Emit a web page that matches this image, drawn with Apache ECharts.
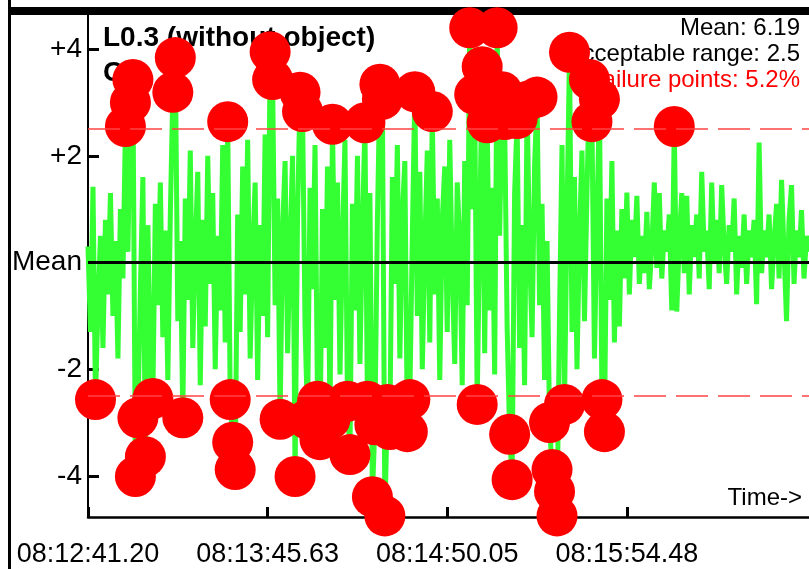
<!DOCTYPE html>
<html>
<head>
<meta charset="utf-8">
<script src="https://cdn.jsdelivr.net/npm/echarts@6/dist/echarts.min.js"></script>
<style>
  html, body { margin: 0; padding: 0; background: #fff; }
  #chart { width: 809px; height: 569px; }
</style>
</head>
<body>
<div id="chart"></div>
<script>
const chart = echarts.init(document.getElementById("chart"));

// deviation from mean, one value per sample
const deviation = [
    0.3, -1.3, 1.42, -2.57, -0.8, 0.5, -1.6, 0.8, -0.6, 1.3,
    -1.0, 0.4, -1.8, 1.0, -0.3, 2.55, 0.2, 3.0, 3.43, -4.01,
    -2.91, -0.5, 1.6, -3.64, 0.7, -1.9, -2.55, 1.1, -0.8, 1.5,
    -1.4, 0.6, -2.2, 0.9, 3.19, 3.84, -1.1, 0.4, -2.91, 1.2,
    -0.7, 2.1, -1.6, 0.3, 1.7, -2.3, 0.8, -1.2, 2.0, -0.4,
    1.3, -2.0, 0.5, -0.9, 2.2, -1.5, 2.64, -2.57, -3.37, -3.88,
    0.9, -1.3, 1.8, -0.6, 2.3, -1.8, 0.2, 1.5, -2.2, 0.7,
    -1.0, 2.4, -1.4, 3.95, 3.43, -0.8, 1.2, -2.94, 0.6, 1.9,
    -1.7, 0.3, 2.0, -4.01, 0.9, 3.19, 2.83, -1.2, -2.94, 1.4,
    -0.5, 2.2, -2.6, -3.32, 1.0, -1.6, 1.8, -2.94, 2.59, -0.7,
    1.5, -2.1, 0.4, 2.3, -2.6, -3.6, 1.1, -0.9, 2.0, -1.9,
    0.6, 2.62, -2.6, 1.3, -4.39, -3.04, 0.8, 3.34, 3.06, -4.75,
    -2.66, -3.13, 1.6, -0.4, 2.2, -1.8, 0.9, 1.9, -3.17, -2.57,
    0.5, 3.2, -1.0, 1.7, -2.0, 0.3, 2.1, -1.5, 2.83, -0.6,
    1.2, -2.2, 0.8, 1.8, -1.3, 2.3, -0.2, -1.9, 1.5, 0.4,
    -2.3, 1.9, -0.8, 4.4, 1.0, 3.15, -2.66, 0.6, 3.67, -1.7,
    2.62, -0.9, 1.4, -2.1, 4.4, 0.5, 3.2, 2.68, -1.2, -3.22,
    -4.07, 1.3, 2.7, -1.6, 0.7, -2.3, 3.02, 0.2, -1.4, 1.8,
    3.1, -0.8, 1.1, -2.2, 0.4, -3.0, -3.88, -4.29, -4.75, -1.0,
    2.2, -2.66, 0.9, 3.94, -1.3, 1.6, -2.0, 0.5, 2.1, -1.1,
    1.3, 3.43, 2.64, -1.8, 0.8, 3.06, -2.57, -3.17, 1.2, -0.7,
    1.9, -1.5, 0.6, -1.2, 1.0, -0.3, 1.31, -0.6, 0.8, 0.1,
    1.25, -0.4, 0.5, -0.2, 0.95, -0.5, 0.3, 1.5, -0.1, 1.3,
    -0.3, 0.6, 0.2, 0.9, -0.9, 2.55, -0.92, 0.4, 1.3, -0.2,
    1.25, -0.6, 0.7, 0.1, 0.9, -0.3, 1.7, 0.2, 0.6, -0.5,
    1.5, 0.0, 0.8, -0.2, 1.45, 0.3, -0.4, 0.7, 0.2, 1.2,
    -0.6, 0.5, -0.1, 0.9, -0.4, 0.6, 0.1, 0.8, -0.78, 2.25,
    -0.2, 0.6, 0.1, 0.9, -0.5, 0.4, 1.1, -0.3, 1.55, 0.2,
    -1.1, 0.8, 1.45, -0.4, 0.6, 0.1, 0.98, -0.3, 0.5, 0.2
];

const acceptableRange = 2.5;
const xTickIndex = [0, 72, 144, 216];
const xTickLabels = ["08:12:41.20", "08:13:45.63", "08:14:50.05", "08:15:54.48"];
const yTickValues = [-4, -2, 0, 2, 4];
const yTickLabels = ["-4", "-2", "Mean", "+2", "+4"];
const infoLines = ["Mean: 6.19", "Acceptable range: 2.5", "Failure points: 5.2%"];

const FONT = "Liberation Sans, Arial, sans-serif";

const lineData = deviation.map((v, i) => [i, v]);
const outsideData = lineData.filter(p => Math.abs(p[1]) > acceptableRange);

const option = {
    animation: false,
    backgroundColor: "#fff",
    grid: {
        left: 88,
        right: 0,
        top: 8,
        bottom: 52,
        outerBoundsMode: "none"
    },
    xAxis: {
        type: "value",
        min: 0,
        max: deviation.length - 1,
        axisLine: { onZero: false, lineStyle: { color: "#000", width: 2.5 } },
        axisTick: {
            inside: true,
            length: 10,
            lineStyle: { color: "#000", width: 3 },
            customValues: xTickIndex
        },
        axisLabel: {
            customValues: xTickIndex,
            margin: 24,
            color: "#000",
            fontFamily: FONT,
            fontSize: 27,
            formatter: function (v) {
                return xTickLabels[xTickIndex.indexOf(v)];
            }
        },
        splitLine: { show: false }
    },
    yAxis: {
        type: "value",
        min: -4.77,
        max: 4.77,
        axisLine: { show: true, onZero: false, lineStyle: { color: "#000", width: 2 } },
        axisTick: {
            show: true,
            inside: true,
            length: 11,
            lineStyle: { color: "#000", width: 3 },
            customValues: yTickValues
        },
        axisLabel: {
            customValues: yTickValues,
            margin: 6,
            color: "#000",
            fontFamily: FONT,
            fontSize: 28,
            formatter: function (v) {
                return yTickLabels[yTickValues.indexOf(v)];
            }
        },
        splitLine: { show: false }
    },
    graphic: [
        // frame around the plot
        { type: "rect", z: 1, shape: { x: 8, y: 0, width: 3, height: 569 }, style: { fill: "#000" } },
        { type: "rect", z: 1, shape: { x: 8, y: 7, width: 801, height: 8 }, style: { fill: "#000" } },
        {
            type: "text", z: 0, left: 103, top: 21,
            style: { text: "L0.3 (without object)\nCH", font: "bold 28px " + FONT, fill: "#000", lineHeight: 35 }
        },
        {
            type: "text", z: 0, right: 9, top: 16,
            style: { text: infoLines[0], font: "24px " + FONT, fill: "#000", align: "right" }
        },
        {
            type: "text", z: 0, right: 9, top: 42,
            style: { text: infoLines[1], font: "24px " + FONT, fill: "#000", align: "right" }
        },
        {
            type: "text", z: 0, right: 9, top: 68,
            style: { text: infoLines[2], font: "24px " + FONT, fill: "#ff0000", align: "right" }
        },
        {
            type: "text", z: 0, right: 7, top: 486,
            style: { text: "Time->", font: "24px " + FONT, fill: "#000", align: "right" }
        }
    ],
    series: [
        {
            name: "limits",
            type: "line",
            z: 1,
            data: [],
            markLine: {
                silent: true,
                symbol: ["none", "none"],
                label: { show: false },
                data: [
                    { yAxis: 0, lineStyle: { color: "#000", width: 3, type: "solid" } },
                    { yAxis: acceptableRange, lineStyle: { color: "#ff4444", width: 1.5, type: [32, 10] } },
                    { yAxis: -acceptableRange, lineStyle: { color: "#ff4444", width: 1.5, type: [32, 10] } }
                ]
            }
        },
        {
            name: "deviation",
            type: "line",
            z: 2,
            showSymbol: false,
            clip: false,
            lineStyle: { color: "#33ff33", width: 5 },
            data: lineData
        },
        {
            name: "outside",
            type: "scatter",
            z: 3,
            clip: false,
            symbolSize: 41,
            itemStyle: { color: "#ff0000", opacity: 1 },
            data: outsideData
        }
    ]
};

chart.setOption(option);
</script>
</body>
</html>
